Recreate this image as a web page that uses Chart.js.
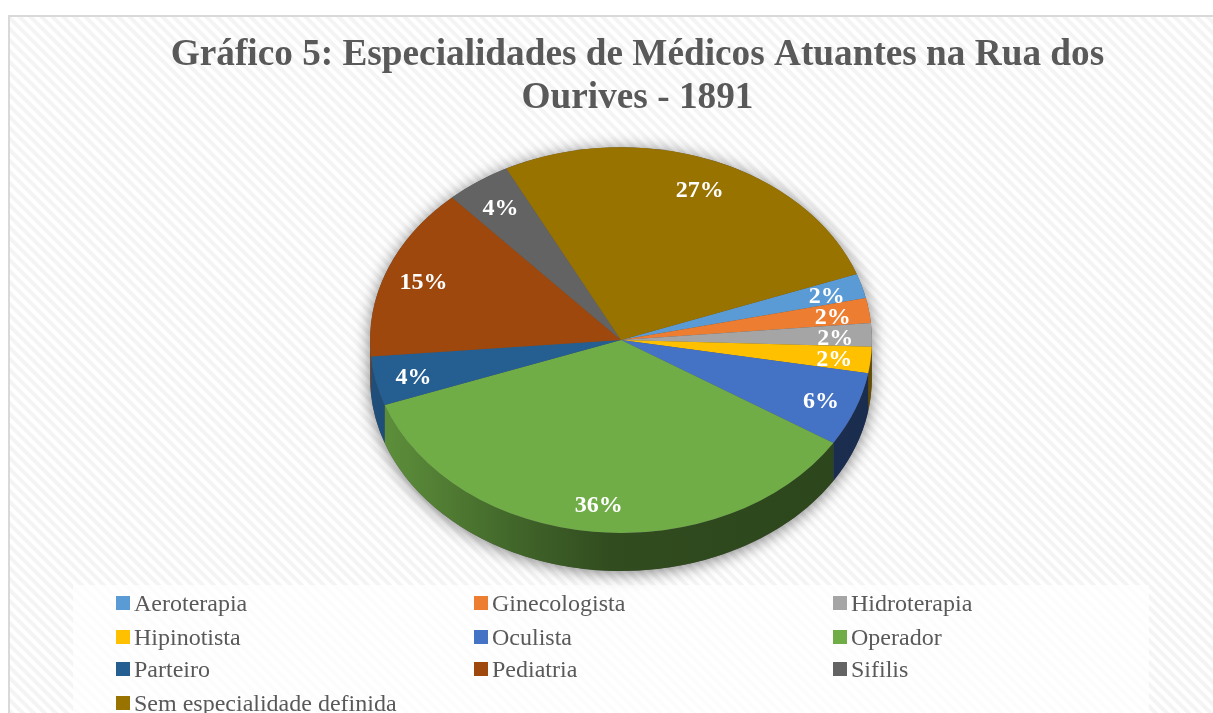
<!DOCTYPE html>
<html>
<head>
<meta charset="utf-8">
<title>Gráfico 5</title>
<style>
  html, body { margin: 0; padding: 0; background: #fff; overflow: hidden; }
  canvas { display: block; }
</style>
<script src="https://cdn.jsdelivr.net/npm/chart.js@4/dist/chart.umd.min.js"></script>
</head>
<body>
<canvas id="chart" width="1213" height="713"></canvas>
<script>
const categories = ['Aeroterapia', 'Ginecologista', 'Hidroterapia', 'Hipinotista', 'Oculista',
  'Operador', 'Parteiro', 'Pediatria', 'Sifilis', 'Sem especialidade definida'];
// the labels show them rounded
const percentages = [2.05, 2.1, 1.95, 2.2, 6.2, 35.6, 4.1, 14.6, 4.2, 27];
const sliceColors = ['#5B9BD5', '#ED7D31', '#A5A5A5', '#FFC000', '#4472C4',
  '#70AD47', '#255E91', '#9E480E', '#636363', '#997300'];
const titleLines = ['Gráfico 5: Especialidades de Médicos Atuantes na Rua dos', 'Ourives - 1891'];

const SERIF = '"Liberation Serif", "Times New Roman", serif';
const TILT = 193 / 251;   // squash of the pie, it is seen at an angle
const DEPTH = 38;

function shade(hex, f) {
  const n = parseInt(hex.slice(1), 16);
  return `rgb(${(n >> 16) * f | 0},${((n >> 8) & 255) * f | 0},${(n & 255) * f | 0})`;
}

function hatch(ctx) {
  const tile = document.createElement('canvas');
  tile.width = tile.height = 11;
  const t = tile.getContext('2d');
  t.fillStyle = '#fff';
  t.fillRect(0, 0, 11, 11);
  t.fillStyle = '#f4f4f4';
  t.beginPath();
  t.moveTo(0, 0); t.lineTo(5.5, 0); t.lineTo(11, 5.5); t.lineTo(11, 11); t.lineTo(0, 0);
  t.moveTo(0, 5.5); t.lineTo(5.5, 11); t.lineTo(0, 11);
  t.fill();
  return ctx.createPattern(tile, 'repeat');
}

const framePlugin = {
  id: 'frame',
  beforeDraw(chart) {
    const ctx = chart.ctx;
    ctx.save();
    ctx.fillStyle = '#fff';
    ctx.fillRect(0, 0, chart.width, chart.height);
    ctx.fillStyle = hatch(ctx);
    ctx.fillRect(8, 15, chart.width - 8, chart.height - 15);
    ctx.fillStyle = '#d9d9d9';
    ctx.fillRect(8, 15, chart.width - 8, 2);
    ctx.fillRect(8, 15, 2, chart.height - 15);
    ctx.restore();
  },
  afterLayout(chart) {
    // title is centred on the frame, not on the pie
    chart.titleBlock.left = 10;
    chart.titleBlock.right = 1265;
    chart.titleBlock.top = 34;
  }
};

// legend is a 3 column grid, which the built in one can not do
const gridLegend = {
  id: 'gridLegend',
  beforeDatasetsDraw(chart) {
    const ctx = chart.ctx;
    ctx.save();
    ctx.fillStyle = 'rgba(255,255,255,0.75)';
    ctx.fillRect(73, 585, 1076, 128);
    const colX = [116, 474, 833];
    const rowY = [603, 637, 669, 703];
    ctx.font = '24px ' + SERIF;
    ctx.textBaseline = 'middle';
    categories.forEach((name, i) => {
      const x = colX[i % 3];
      const y = rowY[Math.floor(i / 3)];
      ctx.fillStyle = sliceColors[i];
      ctx.fillRect(x, y - 7, 14, 14);
      ctx.fillStyle = '#595959';
      ctx.fillText(name, x + 18, y + 2);
    });
    ctx.restore();
  }
};

const tiltedPie = {
  id: 'tiltedPie',
  beforeDatasetsDraw(chart) {
    const ctx = chart.ctx;
    const arcs = chart.getDatasetMeta(0).data;
    const { x: cx, y: cy, outerRadius: r } = arcs[0];
    const ry = r * TILT;

    // soft shadow under the whole body
    ctx.save();
    ctx.shadowColor = 'rgba(0,0,0,0.5)';
    ctx.shadowBlur = 16;
    ctx.shadowOffsetY = 2;
    ctx.fillStyle = '#555';
    ctx.beginPath();
    ctx.ellipse(cx, cy + DEPTH, r, ry, 0, 0, Math.PI);
    ctx.ellipse(cx, cy, r, ry, 0, Math.PI, Math.PI * 2);
    ctx.closePath();
    ctx.fill();
    ctx.restore();

    // side wall, only where the rim faces the viewer
    arcs.forEach((arc, i) => {
      [0, Math.PI * 2, -Math.PI * 2].forEach(shift => {
        const a0 = Math.max(arc.startAngle, shift);
        const a1 = Math.min(arc.endAngle, shift + Math.PI);
        if (a1 <= a0) return;
        const g = ctx.createLinearGradient(cx - r, 0, cx + r, 0);
        const c = sliceColors[i];
        g.addColorStop(0, shade(c, 0.85));
        g.addColorStop(0.12, shade(c, 0.75));
        g.addColorStop(0.3, shade(c, 0.58));
        g.addColorStop(0.48, shade(c, 0.44));
        g.addColorStop(1, shade(c, 0.4));
        ctx.fillStyle = g;
        ctx.beginPath();
        ctx.ellipse(cx, cy, r, ry, 0, a0, a1);
        ctx.ellipse(cx, cy + DEPTH, r, ry, 0, a1, a0, true);
        ctx.closePath();
        ctx.fill();
      });
    });

    // top face: the library draws its arcs inside this squashed space
    ctx.save();
    ctx.translate(cx, cy);
    ctx.scale(1, TILT);
    ctx.translate(-cx, -cy);
  },
  afterDatasetsDraw(chart) {
    const ctx = chart.ctx;
    ctx.restore();
    const arcs = chart.getDatasetMeta(0).data;
    ctx.save();
    ctx.font = 'bold 24px ' + SERIF;
    ctx.fillStyle = '#fff';
    ctx.textAlign = 'center';
    ctx.textBaseline = 'middle';
    arcs.forEach((arc, i) => {
      const mid = (arc.startAngle + arc.endAngle) / 2;
      const d = arc.outerRadius * 0.85;
      ctx.fillText(Math.round(percentages[i]) + '%', arc.x + Math.cos(mid) * d + 1, arc.y + Math.sin(mid) * d * TILT + 3);
    });
    ctx.restore();
  }
};

new Chart(document.getElementById('chart'), {
  type: 'pie',
  data: {
    labels: categories,
    datasets: [{
      data: percentages,
      backgroundColor: sliceColors,
      borderWidth: 0,
      clip: false
    }]
  },
  options: {
    responsive: false,
    animation: false,
    rotation: 70,
    layout: { padding: { left: 370, right: 341, top: 3, bottom: 122 } },
    plugins: {
      title: {
        display: true,
        text: titleLines,
        color: '#595959',
        font: { family: SERIF, size: 37.25, weight: 'bold', lineHeight: 1.157 },
        padding: 0
      },
      legend: { display: false },
      tooltip: { enabled: false }
    }
  },
  plugins: [framePlugin, gridLegend, tiltedPie]
});
</script>
</body>
</html>
